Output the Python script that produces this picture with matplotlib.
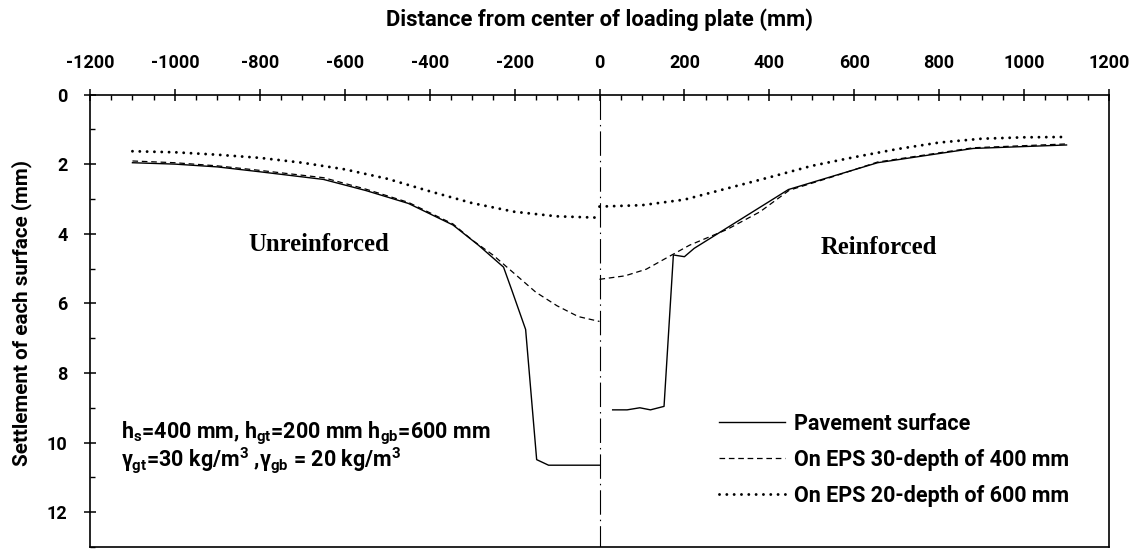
import numpy as np
import matplotlib
matplotlib.use('Agg')
import matplotlib.pyplot as plt
from matplotlib.ticker import MultipleLocator

# --- 데이터 ---
# 포장 표면 (비보강 / 보강)
surf_left_x = [-1100, -1000, -900, -800, -650, -550, -450, -345, -285, -226, -206, -174, -148, -120, 0]
surf_left_y = [1.96, 2.00, 2.08, 2.22, 2.44, 2.76, 3.13, 3.75, 4.33, 4.96, 5.64, 6.75, 10.49, 10.65, 10.65]
surf_right_x = [31, 65, 95, 120, 152, 174, 200, 223, 445, 655, 880, 1100]
surf_right_y = [9.06, 9.06, 9.00, 9.06, 8.96, 4.61, 4.66, 4.42, 2.73, 1.96, 1.55, 1.45]

# EPS 30 위 (깊이 400 mm)
eps30_left_x = [-1100, -1000, -900, -800, -650, -550, -450, -345, -300, -250, -200, -150, -100, -50, 0]
eps30_left_y = [1.91, 1.96, 2.05, 2.18, 2.39, 2.72, 3.10, 3.72, 4.18, 4.62, 5.15, 5.68, 6.07, 6.38, 6.52]
eps30_right_x = [0, 60, 110, 160, 212, 300, 378, 447, 550, 655, 880, 1100]
eps30_right_y = [5.31, 5.21, 5.02, 4.68, 4.33, 3.88, 3.37, 2.75, 2.36, 1.94, 1.53, 1.42]

# EPS 20 위 (깊이 600 mm)
eps20_left_x = [-1100, -1000, -900, -800, -700, -600, -500, -400, -300, -200, -100, 0]
eps20_left_y = [1.63, 1.66, 1.73, 1.82, 1.96, 2.15, 2.42, 2.78, 3.12, 3.37, 3.50, 3.54]
eps20_right_x = [0, 100, 200, 300, 400, 500, 600, 700, 800, 900, 1000, 1100]
eps20_right_y = [3.22, 3.18, 3.02, 2.70, 2.38, 2.05, 1.80, 1.57, 1.38, 1.27, 1.23, 1.22]

center_line_y = [0, 13]

# --- 스타일 ---
FONT = 'Roboto'
plt.rcParams['font.family'] = [FONT, 'DejaVu Sans']
plt.rcParams['font.weight'] = 'bold'
plt.rcParams['axes.unicode_minus'] = False
plt.rcParams['mathtext.fontset'] = 'custom'
plt.rcParams['mathtext.rm'] = FONT + ':bold'
plt.rcParams['mathtext.it'] = FONT + ':bold'
plt.rcParams['mathtext.bf'] = FONT + ':bold'

SOLID = dict(color='black', lw=1.0, linestyle='-')
DASHED = dict(color='black', lw=0.9, linestyle=(0, (4.5, 3)))
DOTTED = dict(color='black', lw=2.1, linestyle=(0, (0.01, 2.5)), dash_capstyle='round')

fig = plt.figure(figsize=(11.45, 5.49), dpi=100)
ax = fig.add_axes([90 / 1145, 2 / 549, 1019 / 1145, 452.5 / 549])

ax.plot(surf_left_x, surf_left_y, label='Pavement surface', **SOLID)
ax.plot(surf_right_x, surf_right_y, **SOLID)
ax.plot(eps30_left_x, eps30_left_y, label='On EPS 30-depth of 400 mm', **DASHED)
ax.plot(eps30_right_x, eps30_right_y, **DASHED)
ax.plot(eps20_left_x, eps20_left_y, label='On EPS 20-depth of 600 mm', **DOTTED)
ax.plot(eps20_right_x, eps20_right_y, **DOTTED)

# 하중판 중심선
ax.plot([0, 0], center_line_y, color='black', lw=0.8, linestyle=(0, (22, 4.5, 1.3, 4.5)))

ax.set_xlim(-1200, 1200)
ax.set_ylim(13, 0)

ax.xaxis.tick_top()
ax.xaxis.set_label_position('top')
ax.xaxis.set_major_locator(MultipleLocator(200))
ax.xaxis.set_minor_locator(MultipleLocator(50))
ax.yaxis.set_major_locator(MultipleLocator(2))
ax.yaxis.set_minor_locator(MultipleLocator(1))

ax.tick_params(axis='x', which='major', direction='inout', length=8.5, width=1.1,
               pad=12, labelsize=13, top=True, bottom=False)
ax.tick_params(axis='x', which='minor', direction='in', length=3.8, width=1.0,
               top=True, bottom=False)
ax.tick_params(axis='y', which='major', direction='inout', length=8.5, width=1.1,
               pad=12, labelsize=13, left=True, right=False)
ax.tick_params(axis='y', which='minor', direction='in', length=3.8, width=1.0,
               left=True, right=False)
for lbl in ax.get_xticklabels() + ax.get_yticklabels():
    lbl.set_fontweight('bold')

for sp in ax.spines.values():
    sp.set_linewidth(1.2)
    sp.set_color('black')

ax.set_xlabel('Distance from center of loading plate (mm)', fontsize=15.8, fontweight='bold')
ax.xaxis.set_label_coords(0.5, (547 - 20) / 452.5)
ax.xaxis.label.set_va('center')
ax.set_ylabel('Settlement of each surface (mm)', fontsize=14.9, fontweight='bold')
ax.yaxis.set_label_coords((22 - 90) / 1019, 0.517)
ax.yaxis.label.set_va('center')

ax.text(-662, 4.32, 'Unreinforced', family='Liberation Serif', fontweight='bold',
        fontsize=17.8, ha='center', va='center')
ax.text(658, 4.40, 'Reinforced', family='Liberation Serif', fontweight='bold',
        fontsize=17.8, ha='center', va='center')

ax.text(-1126, 9.73, r'h$_\mathrm{s}$=400 mm, h$_\mathrm{gt}$=200 mm h$_\mathrm{gb}$=600 mm',
        fontsize=15.5, fontweight='bold', ha='left', va='center')
ax.text(-1126, 10.50, r'$\gamma_\mathrm{gt}$=30 kg/m$^\mathrm{3}$ ,$\gamma_\mathrm{gb}$ = 20 kg/m$^\mathrm{3}$',
        fontsize=15.5, fontweight='bold', ha='left', va='center')

ax.legend(loc='upper left', bbox_to_anchor=((719 - 90) / 1019, 1 - (413 - 94.5) / 452.5),
          frameon=False, handlelength=3.05, handletextpad=0.45,
          labelspacing=0.64, borderpad=0, borderaxespad=0,
          prop={'family': FONT, 'weight': 'bold', 'size': 15.5})

fig.savefig('out.png', dpi=100)
